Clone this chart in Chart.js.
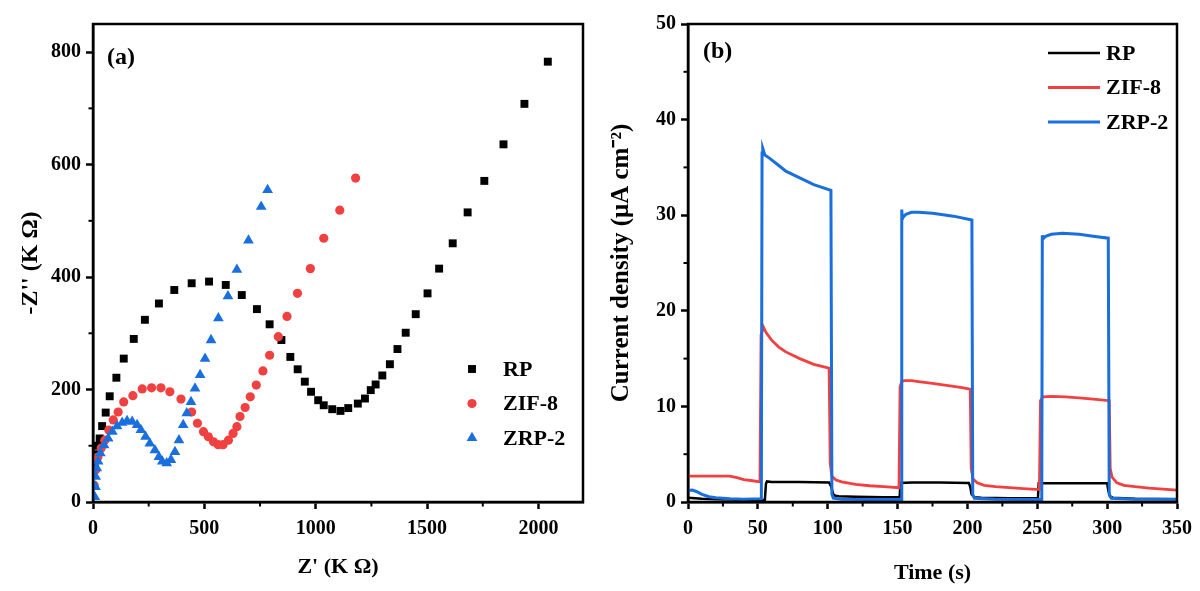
<!DOCTYPE html>
<html>
<head>
<meta charset="utf-8">
<title>EIS and photocurrent</title>
<script src="https://cdn.jsdelivr.net/npm/chart.js@4/dist/chart.umd.min.js"></script>
<style>
  html, body { margin: 0; padding: 0; background: #fff; }
  #wrap { position: relative; width: 1200px; height: 591px; overflow: hidden; }
  canvas { position: absolute; top: 0; }
  #eis-chart { left: 0; }
  #it-chart { left: 600px; }
</style>
</head>
<body>
<div id="wrap">
  <canvas id="eis-chart" width="600" height="591"></canvas>
  <canvas id="it-chart" width="600" height="591"></canvas>
</div>
<script>
// Panel (a) - Nyquist plot, Z' / -Z'' in K ohm
const eisXTicks = [0, 500, 1000, 1500, 2000];
const eisYTicks = [0, 200, 400, 600, 800];

const rpZre   = [8, 15, 22, 30, 41, 57, 75, 105, 138, 183, 233, 296, 365, 443, 521, 596, 668, 736, 793, 846, 886, 919, 951, 979, 1011, 1036, 1074, 1111, 1146, 1189, 1221, 1247, 1269, 1299, 1333, 1367, 1404, 1449, 1502, 1554, 1615, 1682, 1757, 1843, 1937, 2042];
const rpZim   = [60, 85, 100, 113, 135, 159, 188, 221, 255, 290, 324, 353, 377, 389, 392, 386, 368, 343, 316, 288, 258, 236, 214, 196, 181, 172, 165, 162, 167, 175, 184, 199, 209, 225, 245, 272, 301, 334, 371, 415, 460, 515, 571, 636, 708, 783];

const zifZre  = [5, 12, 22, 37, 53, 71, 91, 113, 138, 179, 221, 263, 305, 345, 395, 443, 469, 496, 518, 541, 562, 584, 608, 629, 646, 660, 683, 706, 733, 763, 793, 832, 871, 918, 976, 1036, 1108, 1179];
const zifZim  = [30, 57, 80, 96, 110, 128, 146, 160, 178, 189, 201, 203, 203, 196, 183, 160, 140, 125, 116, 107, 102, 102, 110, 122, 134, 152, 168, 187, 208, 233, 261, 294, 330, 371, 415, 469, 519, 576];

const zrpZre  = [8, 11, 12, 17, 23, 33, 50, 68, 87, 108, 131, 153, 176, 198, 215, 236, 255, 278, 296, 311, 331, 350, 368, 386, 405, 421, 440, 458, 481, 503, 530, 563, 606, 646, 698, 755, 784];
const zrpZim  = [9, 27, 45, 60, 72, 87, 101, 113, 125, 135, 141, 144, 143, 137, 128, 116, 104, 92, 80, 72, 69, 75, 89, 110, 137, 158, 178, 202, 226, 255, 288, 327, 366, 413, 465, 525, 555];

// Panel (b) - transient photocurrent, time (s) / current density (uA cm-2)
const itXTicks = [0, 50, 100, 150, 200, 250, 300, 350];
const itYTicks = [0, 10, 20, 30, 40, 50];

const rpTime     = [0, 10, 20, 30, 40, 55, 55.8, 56.5, 60, 80, 101, 102.5, 104, 105.5, 108, 120, 140, 151.5, 152, 160, 180, 201, 202, 203, 205, 210, 230, 250.5, 251, 260, 280, 300, 300.8, 302, 304, 320, 350];
const rpCurrent  = [0.45, 0.35, 0.3, 0.25, 0.2, 0.2, 1.9, 2.15, 2.1, 2.1, 2.05, 1.6, 0.8, 0.65, 0.6, 0.55, 0.5, 0.5, 2.0, 2.05, 2.05, 2.0, 1.6, 0.8, 0.5, 0.45, 0.4, 0.4, 1.95, 1.95, 1.95, 1.95, 1.2, 0.6, 0.45, 0.35, 0.3];

const zifTime    = [0, 10, 20, 30, 35, 40, 45, 51.5, 52.3, 54, 56, 60, 65, 70, 80, 90, 101, 101.8, 103, 106, 110, 120, 130, 140, 151, 151.8, 153, 155, 160, 165, 175, 185, 195, 202, 202.7, 204, 207, 212, 220, 230, 240, 251.5, 252.3, 254, 260, 270, 280, 290, 301.5, 302.2, 303.5, 307, 312, 320, 330, 340, 350];
const zifCurrent = [2.7, 2.7, 2.7, 2.7, 2.55, 2.35, 2.25, 2.1, 17.5, 18.3, 17.7, 16.9, 16.2, 15.7, 15.0, 14.4, 14.0, 4.0, 2.7, 2.3, 2.1, 1.85, 1.7, 1.6, 1.5, 12.0, 12.6, 12.7, 12.7, 12.6, 12.4, 12.2, 12.0, 11.8, 3.5, 2.4, 2.0, 1.75, 1.6, 1.5, 1.4, 1.3, 10.6, 11.0, 11.05, 11.0, 10.9, 10.75, 10.6, 3.5, 2.6, 2.0, 1.75, 1.6, 1.45, 1.35, 1.25];

const zrpTime    = [0, 3, 6, 10, 15, 20, 30, 40, 52.5, 53, 53.5, 55, 58, 65, 70, 80, 90, 102.3, 103, 104, 110, 130, 152.6, 153, 153.4, 154, 156, 160, 165, 175, 190, 203.2, 203.8, 205, 220, 240, 253.2, 253.6, 254, 256, 260, 268, 280, 290, 300.8, 301.5, 303, 320, 350];
const zrpCurrent = [1.2, 1.25, 1.1, 0.8, 0.55, 0.45, 0.35, 0.3, 0.35, 36.5, 37.0, 36.3, 36.0, 35.2, 34.6, 33.9, 33.2, 32.6, 0.8, 0.4, 0.3, 0.25, 0.25, 30.6, 29.6, 29.8, 30.1, 30.3, 30.3, 30.2, 29.9, 29.5, 0.8, 0.4, 0.3, 0.25, 0.25, 27.9, 27.5, 27.8, 28.0, 28.1, 28.0, 27.8, 27.6, 0.8, 0.4, 0.3, 0.3];

const BLACK = '#000000';
const RED   = '#F14040';
const BLUE  = '#1A6FDF';
const SERIF = "'Liberation Serif', 'Times New Roman', serif";

let eisChart, itChart;

function toPoints(xs, ys) {
  return xs.map((x, i) => ({ x, y: ys[i] }));
}

// Box round the plot area
const frame = {
  id: 'frame',
  afterDatasetsDraw(chart) {
    const { ctx, chartArea: a } = chart;
    ctx.save();
    ctx.strokeStyle = BLACK;
    ctx.lineWidth = 2.5;
    ctx.strokeRect(a.left, a.top, a.right - a.left, a.bottom - a.top);
    ctx.restore();
  },
};

// Short minor ticks halfway between the labelled ones
function minorTicks(axes) {
  return {
    id: 'minorTicks',
    afterDraw(chart) {
      const { ctx, chartArea: a } = chart;
      ctx.save();
      ctx.strokeStyle = BLACK;
      ctx.lineWidth = 2;
      axes.forEach(({ axis, values }) => {
        const scale = chart.scales[axis];
        const step = values[1] - values[0];
        values.forEach((tick) => {
          const v = tick + step / 2;
          if (v >= scale.max) return;
          const p = scale.getPixelForValue(v);
          ctx.beginPath();
          if (axis === 'x') {
            ctx.moveTo(p, a.bottom);
            ctx.lineTo(p, a.bottom + 4.5);
          } else {
            ctx.moveTo(a.left, p);
            ctx.lineTo(a.left - 4.5, p);
          }
          ctx.stroke();
        });
      });
      ctx.restore();
    },
  };
}

// Legend and panel letter drawn inside the plot area
const insideLegend = {
  id: 'insideLegend',
  afterDraw(chart, args, opts) {
    const ctx = chart.ctx;
    ctx.save();
    ctx.fillStyle = BLACK;
    ctx.textBaseline = 'middle';
    ctx.font = `bold 24px ${SERIF}`;
    ctx.fillText(opts.panel, opts.panelX, opts.panelY);

    ctx.font = `bold 22px ${SERIF}`;
    chart.data.datasets.forEach((ds, i) => {
      const y = opts.top + i * opts.gap;
      if (opts.lines) {
        ctx.strokeStyle = ds.borderColor;
        ctx.lineWidth = ds.borderWidth;
        ctx.beginPath();
        ctx.moveTo(opts.x, y);
        ctx.lineTo(opts.x + opts.lineLength, y);
        ctx.stroke();
      } else {
        ctx.fillStyle = ds.backgroundColor;
        Chart.helpers.drawPoint(ctx, {
          pointStyle: ds.pointStyle,
          radius: ds.pointRadius,
          rotation: 0,
          borderWidth: 0,
        }, opts.x, y);
      }
      ctx.fillStyle = BLACK;
      ctx.fillText(ds.label, opts.textX, y + 1);
    });
    ctx.restore();
  },
};

function axisFont(size) {
  return { family: SERIF, size, weight: 'bold' };
}

function tickGrid() {
  return {
    display: true,
    drawOnChartArea: false,
    drawTicks: true,
    tickLength: 7,
    tickWidth: 2.5,
    tickColor: BLACK,
  };
}

// Fixed tick positions taken from the named tick arrays
function fixedTicks(values) {
  return (scale) => { scale.ticks = values.map((value) => ({ value })); };
}

function tickOpts(pad) {
  return {
    autoSkip: false,
    maxRotation: 0,
    font: axisFont(20),
    color: BLACK,
    padding: pad,
    callback: (v) => String(v),
  };
}

// Nyquist scatter plot
function renderEisChart() {
  const markers = [
    { label: 'RP',    xs: rpZre,  ys: rpZim,  color: BLACK, style: 'rect',     r: 5.6, order: 3 },
    { label: 'ZIF-8', xs: zifZre, ys: zifZim, color: RED,   style: 'circle',   r: 4.6, order: 2 },
    { label: 'ZRP-2', xs: zrpZre, ys: zrpZim, color: BLUE,  style: 'triangle', r: 6.2, order: 1 },
  ];

  if (eisChart) eisChart.destroy();
  eisChart = new Chart(document.getElementById('eis-chart'), {
    type: 'scatter',
    data: {
      datasets: markers.map((m) => ({
        label: m.label,
        data: toPoints(m.xs, m.ys),
        pointStyle: m.style,
        pointRadius: m.r,
        pointBorderWidth: 0,
        backgroundColor: m.color,
        borderColor: m.color,
        order: m.order,
      })),
    },
    options: {
      responsive: false,
      animation: false,
      layout: { padding: { top: 24, right: 17, left: 0, bottom: 0 } },
      plugins: {
        legend: { display: false },
        tooltip: { enabled: false },
        insideLegend: {
          panel: '(a)', panelX: 107, panelY: 58,
          x: 472, top: 369, gap: 34.5, textX: 503,
        },
      },
      scales: {
        x: {
          type: 'linear',
          min: 0,
          max: 2200,
          afterBuildTicks: fixedTicks(eisXTicks),
          afterFit: (s) => { s.height = 89; },
          ticks: tickOpts(8),
          grid: tickGrid(),
          border: { display: true, color: BLACK, width: 2.5 },
          title: { display: true, text: "Z' (K Ω)", font: axisFont(22), color: BLACK, padding: { top: 0, bottom: 10 } },
        },
        y: {
          type: 'linear',
          min: 0,
          max: 850,
          afterBuildTicks: fixedTicks(eisYTicks),
          afterFit: (s) => { s.width = 93; },
          ticks: tickOpts(5),
          grid: tickGrid(),
          border: { display: true, color: BLACK, width: 2.5 },
          title: { display: true, text: "-Z'' (K Ω)", font: axisFont(24), color: BLACK, padding: { top: 16, bottom: 0 } },
        },
      },
    },
    plugins: [
      frame,
      minorTicks([{ axis: 'x', values: eisXTicks }, { axis: 'y', values: eisYTicks }]),
      insideLegend,
    ],
  });
}

// Current density vs time
function renderItChart() {
  const traces = [
    { label: 'RP',    ts: rpTime,  vs: rpCurrent,  color: BLACK, width: 2.5, order: 3 },
    { label: 'ZIF-8', ts: zifTime, vs: zifCurrent, color: RED,   width: 2.8, order: 2 },
    { label: 'ZRP-2', ts: zrpTime, vs: zrpCurrent, color: BLUE,  width: 3,   order: 1 },
  ];

  if (itChart) itChart.destroy();
  itChart = new Chart(document.getElementById('it-chart'), {
    type: 'line',
    data: {
      datasets: traces.map((t) => ({
        label: t.label,
        data: toPoints(t.ts, t.vs),
        borderColor: t.color,
        backgroundColor: t.color,
        borderWidth: t.width,
        pointRadius: 0,
        tension: 0,
        order: t.order,
      })),
    },
    options: {
      responsive: false,
      animation: false,
      layout: { padding: { top: 24, right: 19, left: 0, bottom: 0 } },
      plugins: {
        legend: { display: false },
        tooltip: { enabled: false },
        insideLegend: {
          panel: '(b)', panelX: 103, panelY: 52,
          lines: true, x: 448, lineLength: 52, top: 53, gap: 34.5, textX: 506,
        },
      },
      scales: {
        x: {
          type: 'linear',
          min: 0,
          max: 350,
          afterBuildTicks: fixedTicks(itXTicks),
          afterFit: (s) => { s.height = 89; },
          ticks: tickOpts(8),
          grid: tickGrid(),
          border: { display: true, color: BLACK, width: 2.5 },
          title: { display: true, text: 'Time (s)', font: axisFont(22), color: BLACK, padding: { top: 0, bottom: 4 } },
        },
        y: {
          type: 'linear',
          min: 0,
          max: 50,
          afterBuildTicks: fixedTicks(itYTicks),
          afterFit: (s) => { s.width = 88; },
          ticks: tickOpts(5),
          grid: tickGrid(),
          border: { display: true, color: BLACK, width: 2.5 },
          title: { display: true, text: 'Current density (μA cm⁻²)', font: axisFont(25), color: BLACK, padding: { top: 7, bottom: 0 } },
        },
      },
    },
    plugins: [
      frame,
      minorTicks([{ axis: 'x', values: itXTicks }, { axis: 'y', values: itYTicks }]),
      insideLegend,
    ],
  });
}

renderEisChart();
renderItChart();
</script>
</body>
</html>
